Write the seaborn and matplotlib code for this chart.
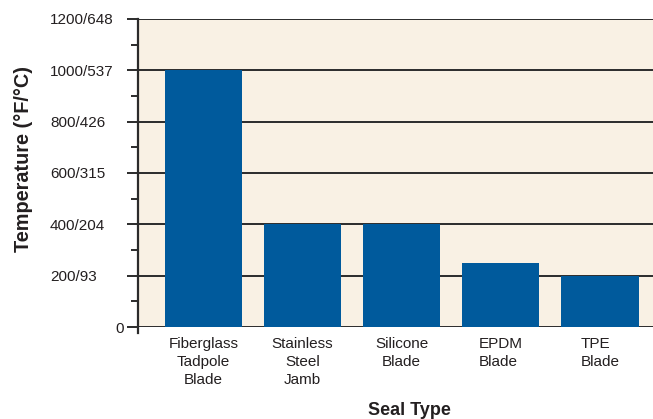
import matplotlib
matplotlib.use("Agg")
import matplotlib.pyplot as plt
import matplotlib.transforms as mtransforms
import seaborn as sns
import pandas as pd
from matplotlib.ticker import MultipleLocator

seal_types = ["Fiberglass\nTadpole\nBlade", "Stainless\nSteel\nJamb", "Silicone\nBlade", "EPDM\nBlade", "TPE\nBlade"]
max_temp_f = [1000, 400, 400, 250, 200]
tick_values = [0, 200, 400, 600, 800, 1000, 1200]
tick_labels = ["0", "200/93", "400/204", "600/315", "800/426", "1000/537", "1200/648"]

df = pd.DataFrame({"seal": seal_types, "temp": max_temp_f})

sns.set_theme(style="white")
plt.rcParams["font.family"] = ["Liberation Sans", "DejaVu Sans"]

text_color = "#231f20"

fig = plt.figure(figsize=(6.53, 4.19), dpi=100)
ax = fig.add_axes([138 / 653, 92 / 419, 1 - 138 / 653, 308 / 419])
ax.set_facecolor("#f9f1e4")

ax.set_axisbelow(True)
ax.grid(axis="y", color="#2b2b2b", linewidth=1.4)

sns.barplot(data=df, x="seal", y="temp", color="#005a9c", saturation=1,
            width=0.78, linewidth=0, edgecolor="none", ax=ax, zorder=3)

ax.set_xlim(-0.66, 4.535)
ax.set_ylim(0, 1200)
ax.set_yticks(tick_values)
ax.set_yticklabels(tick_labels, fontsize=11, color=text_color, ha="left")
ax.yaxis.set_minor_locator(MultipleLocator(100))
ax.tick_params(axis="y", which="major", left=True, length=8, width=1.4,
               color="#2b2b2b", pad=55.4)
ax.tick_params(axis="y", which="minor", left=True, length=5, width=1.4,
               color="#2b2b2b")
# the zero label sits right next to its tick
zero_lbl = ax.get_yticklabels()[0]
zero_lbl.set_transform(zero_lbl.get_transform()
                       + mtransforms.ScaledTranslation(0.65, 0, fig.dpi_scale_trans))

ax.tick_params(axis="x", length=0, pad=7)
for lbl in ax.get_xticklabels():
    lbl.set_fontsize(11)
    lbl.set_color(text_color)
    lbl.set_linespacing(1.38)
    if lbl.get_text() in ("EPDM\nBlade", "TPE\nBlade"):
        lbl.set_multialignment("left")

for side in ["top", "right", "bottom"]:
    ax.spines[side].set_visible(False)
ax.spines["left"].set_color("#2b2b2b")
ax.spines["left"].set_linewidth(1.6)
ax.spines["left"].set_bounds(-22, 1200)

ax.set_xlabel("Seal Type", fontsize=13, fontweight="bold", color=text_color)
ax.xaxis.set_label_coords(0.527, -0.245)
ax.set_ylabel("Temperature (°F/°C)", fontsize=14.3, fontweight="bold", color=text_color)
ax.yaxis.set_label_coords(-0.204, 0.545)

fig.savefig("out.png", dpi=100)
